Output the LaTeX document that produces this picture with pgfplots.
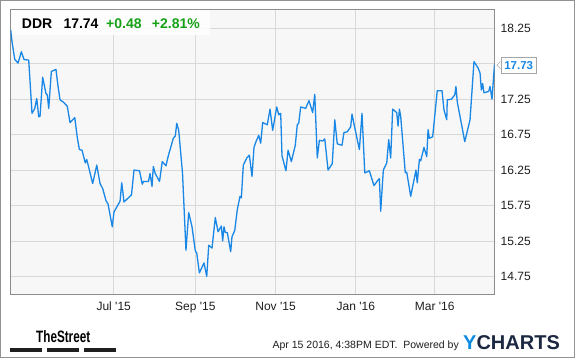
\documentclass[border=0pt]{standalone}
\usepackage{pgfplots}
\pgfplotsset{compat=1.18}
\usepackage{fontspec}
\setmainfont{Liberation Sans}
\definecolor{linec}{RGB}{24,135,230}
\definecolor{upgreen}{RGB}{22,160,22}
\definecolor{gridc}{RGB}{216,216,216}
\definecolor{axc}{RGB}{140,140,140}
\definecolor{bgc}{RGB}{247,247,247}
\definecolor{ynavy}{RGB}{28,40,66}
\definecolor{yblue}{RGB}{12,140,225}
\definecolor{txt}{RGB}{30,30,30}
\begin{document}
\begin{tikzpicture}[x=1pt,y=1pt]
\useasboundingbox (0,0) rectangle (575,358);
\fill[white] (0,0) rectangle (575,358);
\begin{axis}[
  at={(10.7pt,63pt)}, anchor=south west,
  scale only axis, width=483.8pt, height=285pt,
  xmin=-78.3, xmax=289.4, ymin=14.488, ymax=18.508,
  axis background/.style={fill=bgc},
  axis line style={axc, line width=1pt},
  grid=major, major grid style={gridc, line width=0.9pt},
  major tick length=0pt,
  xtick={0,62,123,184,244},
  xticklabels={Jul \textquotesingle15, Sep \textquotesingle15, Nov \textquotesingle15, Jan \textquotesingle16, Mar \textquotesingle16},
  ytick={14.75,15.25,15.75,16.25,16.75,17.25,17.75,18.25},
  yticklabels={14.75,15.25,15.75,16.25,16.75,17.25,{},18.25},
  yticklabel pos=right,
  yticklabel style={anchor=west, inner sep=0pt, xshift=6pt, font=\fontsize{12}{14}\selectfont, text=txt},
  xticklabel style={anchor=north, inner sep=0pt, yshift=-7pt, font=\fontsize{12}{14}\selectfont, text=txt},
]
\fill[white, opacity=0.85] (rel axis cs:0,0.912) rectangle (rel axis cs:0.412,1);
\addplot[linec, line width=1.3pt, line join=round, mark=none] table {
-78.3 18.23
-77.3 18.06
-75.2 17.81
-72.7 17.76
-70.2 17.92
-68.2 17.81
-64.6 17.80
-62.1 17.05
-60.0 17.12
-58.5 17.26
-57.0 17.00
-56.0 17.01
-54.0 17.56
-51.5 17.33
-50.5 17.31
-49.4 17.12
-47.4 17.64
-43.9 17.67
-42.3 17.43
-40.8 17.24
-38.3 17.21
-35.3 17.15
-33.2 16.92
-29.6 16.99
-27.7 16.71
-26.1 16.54
-24.1 16.53
-21.6 16.35
-20.5 16.40
-18.5 16.25
-16.0 16.06
-12.9 16.32
-10.4 16.06
-8.4 15.99
-5.9 15.82
-4.3 15.77
-1.1 15.45
0.2 15.66
4.8 15.81
6.1 16.07
7.8 15.80
13.5 15.90
15.4 16.25
19.6 16.24
21.7 16.05
22.6 16.09
26.4 16.09
27.6 16.20
29.1 16.02
30.1 16.30
31.6 16.20
34.8 16.09
36.9 16.37
39.7 16.31
41.6 16.46
43.8 16.60
45.3 16.70
46.8 16.73
47.9 16.91
49.4 16.81
52.3 16.20
54.9 15.12
57.0 15.65
59.5 15.45
62.0 15.11
63.1 15.08
65.1 14.80
68.6 14.94
70.7 14.75
72.2 15.19
74.7 15.15
77.2 15.58
79.3 15.38
81.8 15.46
82.8 15.25
83.8 15.45
84.8 15.37
86.3 15.37
88.9 15.10
89.9 15.31
92.0 15.40
93.9 15.69
96.0 15.88
97.0 15.86
98.5 16.32
101.1 16.42
103.1 16.46
105.1 16.16
106.6 16.57
108.1 16.65
110.2 16.74
111.7 16.63
113.2 16.92
116.7 16.89
118.8 17.11
120.8 16.81
123.9 17.14
125.4 17.03
126.9 17.05
127.9 16.45
130.9 16.24
132.5 16.53
135.0 16.37
138.0 16.60
139.5 16.89
140.6 16.91
142.1 17.14
144.1 17.13
145.9 17.12
148.4 17.23
151.2 17.06
152.8 17.32
154.7 16.42
156.3 16.67
158.8 16.66
160.4 16.69
162.9 16.25
166.1 16.34
168.0 16.96
169.9 16.62
173.5 16.60
175.0 16.78
177.5 16.79
180.1 16.86
181.1 17.04
182.6 16.90
186.7 16.54
188.7 17.05
190.8 16.21
194.3 16.24
196.3 16.12
197.8 16.03
200.9 16.11
201.9 16.13
202.9 15.67
204.9 16.25
207.5 16.35
209.0 16.68
210.5 16.42
212.0 17.11
215.1 17.06
216.1 16.87
217.1 17.11
218.1 17.01
221.6 16.21
222.7 16.22
225.7 15.88
229.7 16.25
230.7 16.07
232.3 16.40
233.3 16.38
235.8 16.57
237.9 16.44
238.9 16.82
239.9 16.70
242.4 16.72
245.9 17.37
249.5 17.37
251.0 17.10
253.1 16.96
253.5 17.24
256.6 17.25
259.2 17.31
260.1 17.43
261.1 17.21
264.7 16.86
266.8 16.65
270.8 16.96
273.8 17.78
276.9 17.69
278.4 17.62
279.4 17.38
280.4 17.47
281.4 17.34
285.0 17.36
286.0 17.43
287.5 17.25
289.4 17.74
};
\coordinate (lastpt) at (axis cs:289.4,17.73);
\end{axis}
% title
\begin{scope}[every node/.style={anchor=base west, inner sep=0pt, font=\bfseries\fontsize{14}{16}\selectfont}]
\node[text=black] at (21.7,329.7) {DDR};
\node[text=black] at (63.3,329.7) {17.74};
\node[text=upgreen] at (106,329.7) {+0.48};
\node[text=upgreen] at (151.7,329.7) {+2.81\%};
\end{scope}
% last value label
\node[anchor=west, draw=gray!70, fill=white, line width=0.6pt, inner xsep=3.5pt, inner ysep=0pt, minimum height=16.5pt, text=linec, font=\bfseries\fontsize{11.5}{13}\selectfont] (lbl) at ([xshift=6pt]lastpt) {17.73};
\draw[gray!70, fill=white, line width=0.6pt] ([yshift=3.6pt]lbl.west) -- ([xshift=-3.6pt]lbl.west) -- ([yshift=-3.6pt]lbl.west);
\draw[white, line width=1pt] ([yshift=3pt]lbl.west) -- ([yshift=-3pt]lbl.west);
% footer
\node[anchor=base west, inner sep=0pt] at (36,15) {\scalebox{0.71}[1]{\bfseries\fontsize{16.5}{18}\selectfont TheStreet}};
\fill[black!88] (10.3,6) rectangle (42.2,9.5);
\fill[black!88] (46.9,6) rectangle (78.8,9.5);
\fill[black!88] (83.6,6) rectangle (115.5,9.5);
\node[anchor=base east, inner sep=0pt, text=txt, font=\fontsize{10.5}{12}\selectfont] at (459,9.5) {Apr 15 2016, 4:38PM EDT.\ \ Powered by};
\node[anchor=base west, inner sep=0pt, font=\bfseries\fontsize{20}{22}\selectfont] at (463,8) {\textcolor{yblue}{Y}\textcolor{ynavy}{CHARTS}};
\draw[gray!85, line width=1pt] (0.5,0.5) rectangle (574.5,357.5);
\end{tikzpicture}
\end{document}
